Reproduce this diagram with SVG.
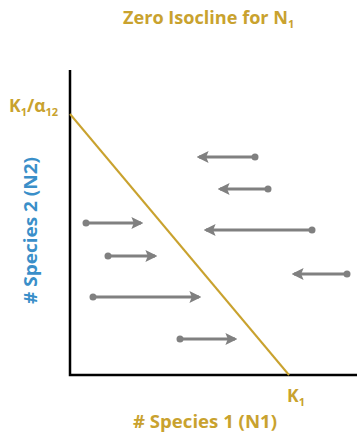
<svg xmlns="http://www.w3.org/2000/svg" width="357" height="439" viewBox="0 0 357 439">
<defs>
<style>
.gold{fill:#C9A22E;font-family:"Open Sans","Liberation Sans",sans-serif;font-weight:bold}
.blue{fill:#3A8FC9;font-family:"Open Sans","Liberation Sans",sans-serif;font-weight:bold}
.arr{stroke:#808080;stroke-width:3;fill:none;marker-end:url(#head)}
.dot{fill:#808080}
.axis{stroke:#000;stroke-width:2.5;fill:none}
</style>
<marker id="head" viewBox="0 0 10 10" refX="8" refY="5" markerWidth="4" markerHeight="4" markerUnits="strokeWidth" orient="auto">
<path d="M0,0 L10,5 L0,10 L2,5 Z" fill="#808080"/>
</marker>
</defs>
<rect width="357" height="439" fill="#fff"/>
<g id="title"><text class="gold" x="123" y="24" font-size="17.5" textLength="165" lengthAdjust="spacingAndGlyphs">Zero Isocline for N</text><text class="gold" x="288" y="28" font-size="11">1</text></g>
<g id="axes">
<path class="axis" d="M70,70 V375 H357"/>
</g>
<g id="isocline"><path d="M70,114 L289,375" stroke="#C9A22E" stroke-width="2" fill="none"/></g>
<g id="label-k1a12"><text class="gold" x="9" y="112" font-size="17.5">K<tspan font-size="11" dy="4">1</tspan><tspan dy="-4">/α</tspan><tspan font-size="11" dy="4">12</tspan></text></g>
<g id="label-k1"><text class="gold" x="287" y="402" font-size="17.5">K<tspan font-size="11" dy="4">1</tspan></text></g>
<g id="xlabel"><text class="gold" x="133" y="428" font-size="17.5" textLength="144" lengthAdjust="spacingAndGlyphs"># Species 1 (N1)</text></g>
<g id="ylabel"><text class="blue" transform="translate(37,304) rotate(-90)" x="0" y="0" font-size="17.5" textLength="147" lengthAdjust="spacingAndGlyphs"># Species 2 (N2)</text></g>
<g id="connectors">
<line class="arr" x1="255" y1="157" x2="199" y2="157"/><circle class="dot" cx="255" cy="157" r="3.5"/>
<line class="arr" x1="268" y1="189" x2="220" y2="189"/><circle class="dot" cx="268" cy="189" r="3.5"/>
<line class="arr" x1="312" y1="230" x2="206" y2="230"/><circle class="dot" cx="312" cy="230" r="3.5"/>
<line class="arr" x1="86" y1="223" x2="141" y2="223"/><circle class="dot" cx="86" cy="223" r="3.5"/>
<line class="arr" x1="108" y1="256" x2="155" y2="256"/><circle class="dot" cx="108" cy="256" r="3.5"/>
<line class="arr" x1="347" y1="274" x2="294" y2="274"/><circle class="dot" cx="347" cy="274" r="3.5"/>
<line class="arr" x1="93" y1="297" x2="199" y2="297"/><circle class="dot" cx="93" cy="297" r="3.5"/>
<line class="arr" x1="180" y1="339" x2="235" y2="339"/><circle class="dot" cx="180" cy="339" r="3.5"/>
</g>
</svg>
